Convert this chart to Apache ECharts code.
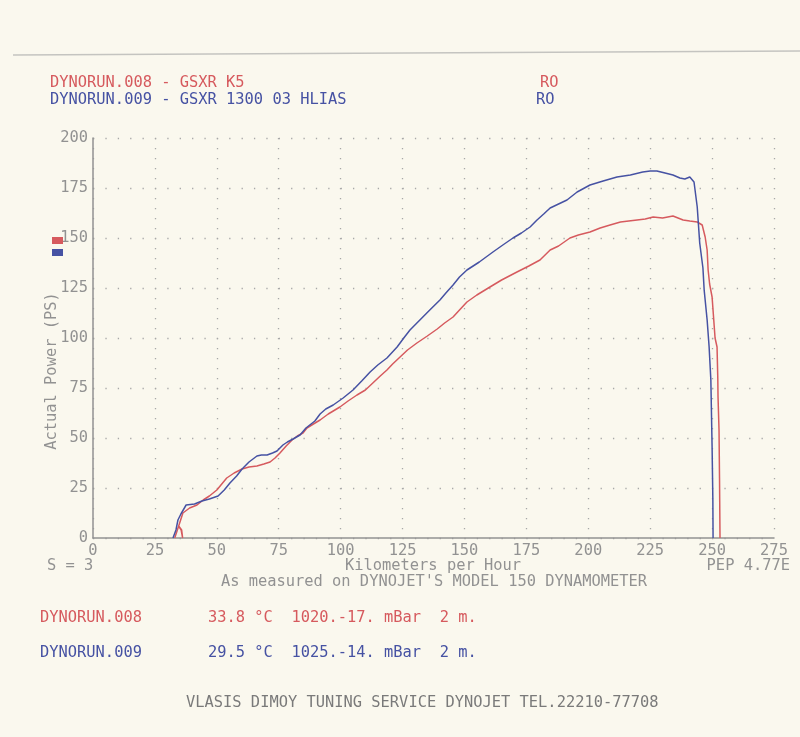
<!DOCTYPE html>
<html>
<head>
<meta charset="utf-8">
<script src="https://cdn.jsdelivr.net/npm/echarts@6/dist/echarts.min.js"></script>
<style>
html,body{margin:0;padding:0;background:#faf8ee;}
#chart{width:800px;height:737px;}
</style>
</head>
<body>
<div id="chart"></div>
<script>
// ---- data (km/h, PS) ----
const run008Name = 'DYNORUN.008';
const run009Name = 'DYNORUN.009';
const run008 = [
  [33.0,0],[34.6,6],[35.8,4],[36.2,0],[35.6,4],[34.6,6],[36.3,12.5],[39,15],[42,16.5],[44.5,19],[47,21],[50,24],
  [54,30],[57,32.5],[60.2,34.5],[63,35.5],[66.2,36],[69,37],[71.5,38],[73.5,40],[75.5,42.5],[78,46],
  [80.4,49],[82.5,51],[84.8,52.5],[86.4,55],[89,57],[91.7,59],[95,62],[99.7,65.5],[103,68.5],[106.6,71.5],
  [110,74],[113,77.5],[116,81],[118.7,84],[121,87],[124,90.5],[127,94],[130.8,97.5],[135,101],[139,104.5],
  [142,107.5],[145.4,110.5],[148,114],[151,118],[155,121.5],[160.3,125.5],[165,129],[171.2,133],[176,136],
  [180.5,139],[184.6,144],[188,146],[192.6,150],[196,151.5],[200.7,153],[204.8,155],[208.8,156.5],[213,158],
  [219.7,159],[223,159.5],[226.2,160.5],[230,160],[234.2,161],[238.3,159],[241,158.5],[244,158],[246,156.5],
  [247.2,150.5],[248,144],[248.4,134],[249,127],[250,120.5],[251.2,100],[252,95.5],[252.3,80],[252.4,70.5],
  [252.8,54],[253,30],[253.2,0]
];
const run009 = [
  [32.3,0],[33.5,4],[34.3,9],[35.5,12],[37.6,16.5],[41,17],[44,18.5],[47,19.5],[50.5,21],[53,24],[55.3,27.5],
  [58,31],[60.2,34.5],[63,38],[66.2,41],[68,41.5],[70.3,41.5],[72.5,42.5],[74.3,43.5],[76.7,46.5],[78.5,48],
  [80.8,49.5],[83.6,51.5],[86,55],[89.6,58.5],[91.7,62],[94,64.5],[97,66.5],[101,70],[105,74],[108.5,78.5],
  [111.9,83],[115,86.5],[118.7,90],[122.8,95.5],[125.5,100],[128,104],[132,109],[136,114],[140.1,119],
  [142.5,122.5],[145.4,126.5],[148,130.5],[151,134],[156,138],[161.5,143],[165.5,146.5],[169.6,150],
  [173,152.5],[176.5,155.5],[179.3,159],[182,162],[184.6,165],[188,167],[191.4,169],[195.5,173],[200.7,176.5],
  [206,178.5],[211.6,180.5],[217,181.5],[222,183],[225,183.5],[227.7,183.5],[231,182.5],[234.2,181.5],
  [237,180],[239,179.5],[241,180.5],[242.7,178],[244,165.5],[245,147.5],[246.3,135],[246.8,124],[248,109],
  [248.8,95.5],[249.5,79],[250,45.5],[250.3,20],[250.4,0]
];
const xMin = 0, xMax = 275, xStep = 25;
const yMin = 0, yMax = 200, yStep = 25;
const headerLines = ['DYNORUN.008 - GSXR K5', 'DYNORUN.009 - GSXR 1300 03 HLIAS'];
const headerTags = ['RO', 'RO'];
const condLines = ['33.8 °C  1020.-17. mBar  2 m.', '29.5 °C  1025.-14. mBar  2 m.'];

const RED = '#d65a5e', BLUE = '#4652a3', GRAY = '#929292';
const FONT = 'DejaVu Sans Mono';
const FS = 15.4;

function txt(x, y, text, color, align) {
  return { type: 'text', x: x, y: y, style: { text: text, fill: color, font: FS + 'px "' + FONT + '"', textAlign: align || 'left', textVerticalAlign: 'middle' } };
}

const chart = echarts.init(document.getElementById('chart'));
chart.setOption({
  backgroundColor: '#faf8ee',
  animation: false,
  grid: { left: 93, right: 26, top: 138, bottom: 199 },
  legend: {
    left: 47, top: 232, orient: 'vertical', itemWidth: 11, itemHeight: 7, itemGap: 5,
    icon: 'rect', formatter: function(){ return ''; }, selectedMode: false,
    data: [run008Name, run009Name]
  },
  xAxis: {
    type: 'value', min: xMin, max: xMax, interval: xStep,
    axisLine: { show: true, lineStyle: { color: GRAY, width: 1.5 } },
    axisTick: { show: false },
    axisLabel: { color: GRAY, fontFamily: FONT, fontSize: FS, margin: 5 },
    splitLine: { show: true, lineStyle: { color: '#a8a8a8', width: 1.3, type: [1.3, 8.7] } }
  },
  yAxis: {
    type: 'value', min: yMin, max: yMax, interval: yStep,
    axisLine: { show: true, lineStyle: { color: GRAY, width: 1.5 } },
    axisTick: { show: false },
    axisLabel: { color: GRAY, fontFamily: FONT, fontSize: FS, margin: 5 },
    splitLine: { show: true, lineStyle: { color: '#a8a8a8', width: 1.3, type: [1.3, 11.08] } }
  },
  series: [
    { name: run008Name, type: 'line', data: run008, showSymbol: false, symbol: 'none', color: RED, lineStyle: { color: RED, width: 1.5 }, z: 3 },
    { name: run009Name, type: 'line', data: run009, showSymbol: false, symbol: 'none', color: BLUE, lineStyle: { color: BLUE, width: 1.5 }, z: 4 }
  ],
  graphic: [
    { type: 'line', shape: { x1: 13, y1: 55, x2: 800, y2: 51 }, style: { stroke: '#c4c4c0', lineWidth: 1.5 } },
    txt(50, 83, headerLines[0], RED),
    txt(50, 100, headerLines[1], BLUE),
    txt(540, 83, headerTags[0], RED),
    txt(536, 100, headerTags[1], BLUE),
    { type: 'text', x: 52, y: 371, rotation: Math.PI / 2, style: { text: 'Actual Power (PS)', fill: GRAY, font: FS + 'px "' + FONT + '"', textAlign: 'center', textVerticalAlign: 'middle' } },
    txt(47, 566, 'S = 3', GRAY),
    txt(433, 566, 'Kilometers per Hour', GRAY, 'center'),
    txt(790, 566, 'PEP 4.77E', GRAY, 'right'),
    txt(434, 582, "As measured on DYNOJET'S MODEL 150 DYNAMOMETER", GRAY, 'center'),
    txt(40, 618, run008Name, RED),
    txt(208, 618, condLines[0], RED),
    txt(40, 653, run009Name, BLUE),
    txt(208, 653, condLines[1], BLUE),
    txt(186, 703, 'VLASIS DIMOY TUNING SERVICE DYNOJET TEL.22210-77708', '#7a7a7a')
  ]
});
</script>
</body>
</html>
